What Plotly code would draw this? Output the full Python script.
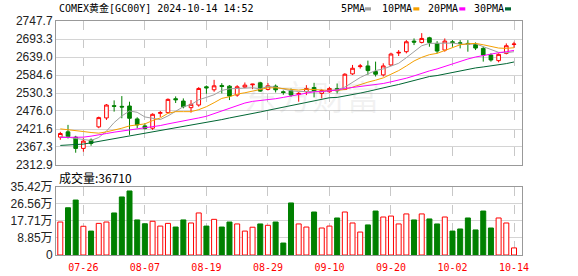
import plotly.graph_objects as go

# ---------------- data ----------------
dates = ["07-23", "07-24", "07-25", "07-26", "07-29", "07-30", "07-31", "08-01", "08-02", "08-05",
         "08-06", "08-07", "08-08", "08-09", "08-12", "08-13", "08-14", "08-15", "08-16", "08-19",
         "08-20", "08-21", "08-22", "08-23", "08-26", "08-27", "08-28", "08-29", "08-30", "09-02",
         "09-03", "09-04", "09-05", "09-06", "09-09", "09-10", "09-11", "09-12", "09-13", "09-16",
         "09-17", "09-18", "09-19", "09-20", "09-23", "09-24", "09-25", "09-26", "09-27", "09-30",
         "10-01", "10-02", "10-03", "10-04", "10-07", "10-08", "10-09", "10-10", "10-11", "10-14"]

open_ = [2397, 2413, 2397, 2363, 2388, 2428, 2455, 2492, 2490, 2491, 2452, 2431, 2424, 2469, 2471,
         2513, 2506, 2486, 2494, 2549, 2540, 2553, 2551, 2524, 2548, 2555, 2561, 2541, 2551, 2534,
         2537, 2526, 2534, 2547, 2529, 2534, 2544, 2541, 2588, 2610, 2612, 2595, 2585, 2615, 2651,
         2655, 2687, 2683, 2697, 2680, 2660, 2685, 2682, 2680, 2677, 2665, 2645, 2628, 2650, 2677]
high = [2413, 2434, 2401, 2394, 2393, 2459, 2497, 2508, 2521, 2504, 2457, 2439, 2469, 2476, 2514,
        2520, 2514, 2509, 2548, 2553, 2570, 2560, 2554, 2554, 2562, 2558, 2564, 2560, 2556, 2538,
        2544, 2533, 2554, 2561, 2541, 2549, 2559, 2590, 2615, 2618, 2628, 2625, 2620, 2652, 2660,
        2690, 2695, 2711, 2700, 2687, 2695, 2690, 2690, 2690, 2683, 2670, 2650, 2650, 2680, 2685]
low = [2389, 2393, 2350, 2353, 2371, 2424, 2449, 2474, 2454, 2404, 2424, 2420, 2419, 2458, 2469,
       2500, 2484, 2471, 2489, 2528, 2534, 2529, 2509, 2519, 2545, 2542, 2534, 2538, 2532, 2525,
       2519, 2504, 2524, 2517, 2514, 2531, 2529, 2539, 2585, 2604, 2585, 2580, 2580, 2612, 2642,
       2650, 2675, 2680, 2670, 2650, 2655, 2670, 2665, 2655, 2660, 2625, 2625, 2623, 2647, 2667]
close = [2408, 2399, 2363, 2385, 2378, 2456, 2494, 2490, 2488, 2454, 2434, 2423, 2466, 2471, 2511,
         2510, 2489, 2496, 2544, 2546, 2552, 2550, 2521, 2549, 2554, 2557, 2536, 2552, 2540, 2532,
         2524, 2529, 2544, 2536, 2538, 2544, 2537, 2587, 2605, 2612, 2598, 2587, 2612, 2648, 2653,
         2685, 2684, 2695, 2683, 2657, 2687, 2683, 2680, 2678, 2666, 2645, 2630, 2647, 2673, 2678]

ma5 = [2398, 2397, 2393, 2390, 2387, 2396, 2415, 2441, 2461, 2476, 2472, 2458, 2453, 2450, 2461,
       2476, 2489, 2495, 2510, 2517, 2525, 2538, 2543, 2544, 2545, 2546, 2543, 2550, 2548, 2543,
       2537, 2535, 2534, 2533, 2534, 2538, 2540, 2548, 2562, 2577, 2588, 2598, 2603, 2611, 2620,
       2637, 2656, 2673, 2680, 2681, 2681, 2681, 2678, 2677, 2679, 2670, 2660, 2653, 2652, 2655]
ma10 = [2422, 2420, 2417, 2414, 2411, 2409, 2413, 2418, 2424, 2431, 2434, 2437, 2447, 2455, 2469,
        2474, 2474, 2474, 2480, 2489, 2501, 2514, 2519, 2527, 2531, 2536, 2541, 2546, 2546, 2544,
        2542, 2539, 2542, 2540, 2539, 2538, 2538, 2541, 2548, 2556, 2563, 2569, 2576, 2587, 2598,
        2612, 2627, 2638, 2646, 2650, 2659, 2669, 2676, 2679, 2680, 2676, 2670, 2666, 2665, 2667]
ma20 = [2396, 2396, 2396, 2397, 2400, 2403, 2408, 2412, 2415, 2418, 2421, 2424, 2428, 2432, 2437,
        2441, 2445, 2450, 2455, 2460, 2468, 2475, 2483, 2491, 2500, 2505, 2507, 2510, 2513, 2517,
        2521, 2527, 2530, 2534, 2535, 2537, 2539, 2544, 2547, 2550, 2552, 2554, 2559, 2564, 2569,
        2575, 2582, 2590, 2597, 2603, 2611, 2619, 2626, 2633, 2639, 2644, 2649, 2652, 2655, 2659]
ma30 = [2372, 2373, 2374, 2376, 2380, 2384, 2388, 2392, 2396, 2400, 2404, 2408, 2412, 2417, 2421,
        2426, 2430, 2434, 2438, 2442, 2446, 2450, 2455, 2459, 2464, 2468, 2473, 2478, 2483, 2488,
        2492, 2497, 2503, 2508, 2513, 2516, 2517, 2521, 2524, 2530, 2535, 2541, 2545, 2551, 2556,
        2562, 2568, 2575, 2580, 2583, 2588, 2592, 2598, 2602, 2606, 2609, 2612, 2615, 2619, 2624]

volume_wan = [17.1, 24.5, 28.5, 14.9, 12.4, 16.4, 17.1, 21.8, 30.1, 33.2, 18.2, 16.2, 17.5, 15.0, 16.4,
              14.5, 18.2, 16.6, 21.8, 15.0, 18.5, 14.5, 17.1, 16.1, 12.4, 14.4, 16.1, 15.4, 17.1, 6.2,
              27.0, 16.1, 14.5, 22.3, 14.0, 15.0, 19.2, 22.3, 16.6, 11.9, 15.6, 22.8, 19.7, 20.2, 16.1,
              21.3, 18.2, 21.3, 18.7, 16.1, 19.7, 12.4, 13.5, 19.2, 13.0, 22.8, 14.0, 19.2, 16.6, 3.671]

price_ticks = [2312.9, 2367.3, 2421.6, 2476.0, 2530.3, 2584.6, 2639.0, 2693.3, 2747.7]
vol_ticks = [0, 8.85, 17.71, 26.56, 35.42]
vol_tick_text = ["0", "8.85万", "17.71万", "26.56万", "35.42万"]
date_ticks = ["07-26", "08-07", "08-19", "08-29", "09-10", "09-20", "10-02", "10-14"]

title_text = "COMEX黄金[GC00Y] 2024-10-14 14:52"
vol_title = "成交量:36710"
ma_names = ["5PMA", "10PMA", "20PMA", "30PMA"]
ma_colors = ["#a0a0a0", "#f5a000", "#ff00ff", "#006633"]

# ---------------- layout helpers ----------------
W, H = 578, 276
ML, MR, MT, MB = 56, 56, 21, 21
PW, PH = W - ML - MR, H - MT - MB


def px(x):
    return (x - ML) / PW


def py(y):
    return (H - MB - y) / PH


RED = "#ff0000"
GREEN = "#008000"
MONO = "DejaVu Sans Mono, Noto Sans CJK SC, monospace"
SANS = "Liberation Sans, Arial, Noto Sans CJK SC, sans-serif"

fig = go.Figure()

fig.add_trace(go.Candlestick(
    x=dates, open=open_, high=high, low=low, close=close,
    increasing=dict(line=dict(color=RED, width=1), fillcolor="white"),
    decreasing=dict(line=dict(color=GREEN, width=1), fillcolor=GREEN),
    whiskerwidth=0, xaxis="x", yaxis="y", showlegend=False, hoverinfo="skip",
))

for name, vals, col in zip(ma_names, [ma5, ma10, ma20, ma30], ma_colors):
    fig.add_trace(go.Scatter(x=dates, y=vals, mode="lines", name=name,
                             line=dict(color=col, width=1), xaxis="x", yaxis="y",
                             showlegend=False, hoverinfo="skip"))

up = [c >= o for o, c in zip(open_, close)]
fig.add_trace(go.Bar(
    x=dates, y=volume_wan, xaxis="x2", yaxis="y2", showlegend=False,
    marker=dict(color=["white" if u else GREEN for u in up],
                line=dict(color=[RED if u else GREEN for u in up], width=1)),
    hoverinfo="skip",
))

xrange = [-0.56, 60.04]
common_x = dict(type="category", range=xrange, tickvals=date_ticks, ticktext=date_ticks,
                showgrid=True, gridcolor="#c8c8c8", griddash="dash", gridwidth=1,
                showline=True, mirror=True, linecolor="#999999", linewidth=1,
                ticks="", zeroline=False, fixedrange=True, automargin=False)
common_y = dict(tickfont=dict(family=SANS, size=12, color="#222222"),
                showgrid=True, gridcolor="#d4d4d4", gridwidth=1,
                showline=True, mirror=True, linecolor="#999999", linewidth=1,
                ticks="", zeroline=False, fixedrange=True, automargin=False)

fig.update_layout(
    width=W, height=H,
    margin=dict(l=ML, r=MR, t=MT, b=MB, pad=0, autoexpand=False),
    paper_bgcolor="white", plot_bgcolor="white",
    bargap=0.35, boxgap=0.32,
    xaxis=dict(domain=[0, 1], anchor="y", showticklabels=False,
               rangeslider=dict(visible=False), **common_x),
    xaxis2=dict(domain=[0, 1], anchor="y2", matches="x", showticklabels=True,
                ticklabelstandoff=3,
                tickfont=dict(family=MONO, size=10, color=RED), **common_x),
    yaxis=dict(domain=[py(165), 1], range=[price_ticks[0], price_ticks[-1]],
               tickvals=price_ticks, ticktext=[f"{v:.1f}" for v in price_ticks], **common_y),
    yaxis2=dict(domain=[0, py(186.7)], range=[0, vol_ticks[-1]],
                tickvals=vol_ticks, ticktext=vol_tick_text, **common_y),
)

ann = []
# watermark
ann.append(dict(text="东方财富", x=px(312), y=py(95), xref="paper", yref="paper",
                showarrow=False, font=dict(family="Noto Sans CJK SC", size=34, color="rgba(150,150,150,0.13)"),
                xanchor="center", yanchor="middle"))
# title
ann.append(dict(text=title_text, x=px(57), y=py(8.5), xref="paper", yref="paper",
                showarrow=False, font=dict(family=MONO, size=10, color="#000000"),
                xanchor="left", yanchor="middle"))
# MA legend text
legend_x = [338.5, 380, 425.5, 471.5]
square_x = [365, 413.3, 459.3, 505]
for name, lx, sx, col in zip(ma_names, legend_x, square_x, ma_colors):
    ann.append(dict(text=name, x=px(lx), y=py(8.5), xref="paper", yref="paper",
                    showarrow=False, font=dict(family=MONO, size=10, color="#000000"),
                    xanchor="left", yanchor="middle"))
    fig.add_shape(type="rect", xref="paper", yref="paper",
                  x0=px(sx), x1=px(sx + 6), y0=py(10.5), y1=py(7.3),
                  fillcolor=col, line=dict(width=0))
# volume title
ann.append(dict(text=vol_title, x=px(57), y=py(177), xref="paper", yref="paper",
                showarrow=False, font=dict(family="Noto Sans CJK SC", size=12, color="#000000"),
                xanchor="left", yanchor="middle"))
fig.update_layout(annotations=ann)

fig.write_html("out.html")
